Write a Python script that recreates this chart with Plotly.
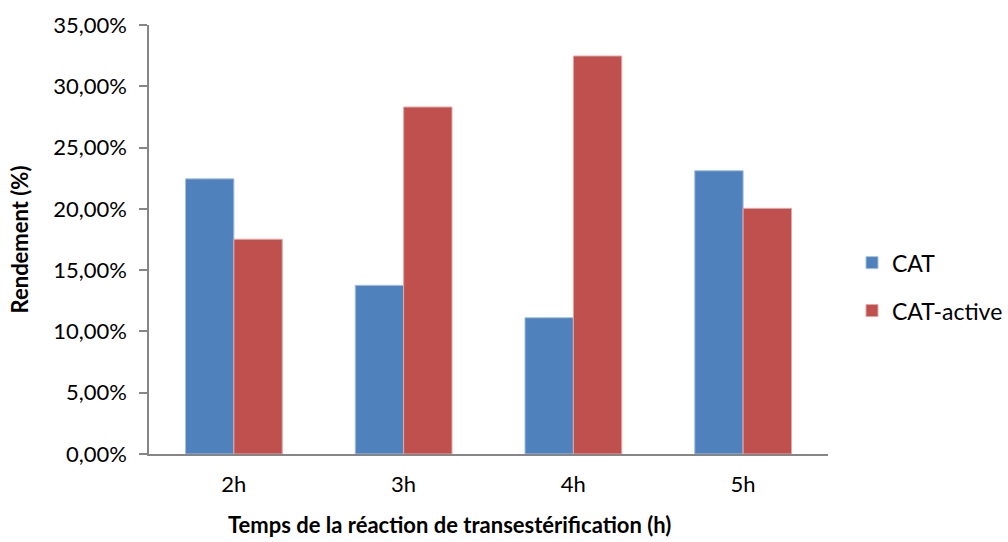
import plotly.graph_objects as go

# Reaction times and yields (fraction) for each catalyst
categories = ["2h", "3h", "4h", "5h"]
cat_yield = [0.2245, 0.1376, 0.1112, 0.2311]
cat_active_yield = [0.1752, 0.2831, 0.3247, 0.2004]
y_ticks = [0, 0.05, 0.10, 0.15, 0.20, 0.25, 0.30, 0.35]
x_title = "Temps de la réaction de transestérification (h)"

FONT = "Lato, 'Open Sans', sans-serif"
AXIS_GREY = "#868686"

fig = go.Figure()
fig.add_trace(go.Bar(
    x=categories, y=cat_yield, name="CAT", legendgroup="a",
    marker=dict(color="#4F81BD", line=dict(color="#A7C0DE", width=1)),
))
fig.add_trace(go.Bar(
    x=categories, y=cat_active_yield, name="CAT-active", legendgroup="b",
    marker=dict(color="#C0504D", line=dict(color="#E0A8A6", width=1)),
))

# plot area occupies the left part of the paper, legend is anchored to the right edge
fig.update_layout(
    width=1008, height=542,
    margin=dict(l=149, r=0, t=25, b=88),
    paper_bgcolor="white", plot_bgcolor="white",
    font=dict(family=FONT, size=22, color="black"),
    separators=", ",
    barmode="group", bargap=0.43, bargroupgap=0,
    showlegend=True,
    legend=dict(
        x=1.0, y=0.39, xanchor="right", yanchor="middle",
        font=dict(size=23), traceorder="grouped", tracegroupgap=15,
        itemwidth=30,
    ),
)

# category-axis title, centred under the chart body rather than the plot area
fig.add_annotation(
    text=f"<b>{x_title}</b>", xref="paper", yref="paper",
    x=0.35, y=-0.165, xanchor="center", yanchor="middle",
    showarrow=False, font=dict(size=22),
)

fig.update_xaxes(
    domain=[0, 679 / 859], automargin=False,
    showline=True, linecolor=AXIS_GREY, linewidth=1.5,
    ticks="", showgrid=False, ticklabelstandoff=10,
    tickfont=dict(size=22),
)
fig.update_yaxes(
    range=[0, 0.35], tickvals=y_ticks, tickformat=".2%", automargin=False,
    showline=True, linecolor=AXIS_GREY, linewidth=1.5,
    ticks="outside", ticklen=8, tickcolor=AXIS_GREY, tickwidth=1.5,
    showgrid=False, zeroline=False, ticklabelstandoff=8,
    tickfont=dict(size=22),
    title=dict(text="<b>Rendement (%)</b>", font=dict(size=22), standoff=18),
)

fig.write_html("out.html")
